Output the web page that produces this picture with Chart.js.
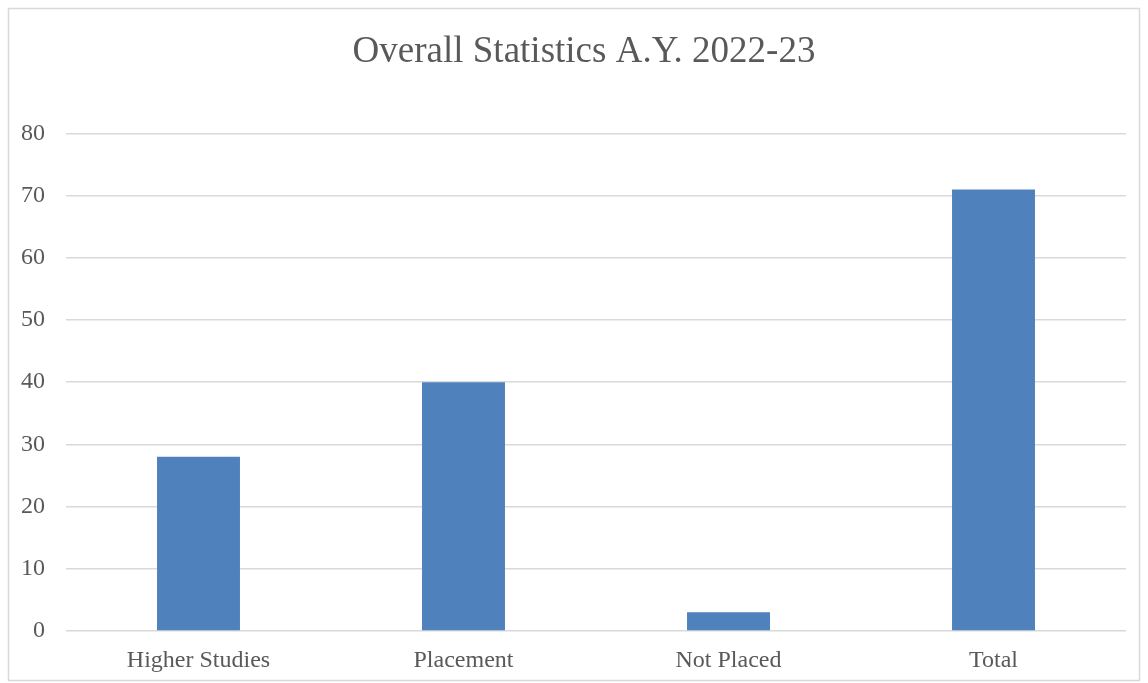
<!DOCTYPE html>
<html>
<head>
<meta charset="utf-8">
<script src="https://cdn.jsdelivr.net/npm/chart.js@4"></script>
<style>
  html, body { margin: 0; padding: 0; background: #fff; }
  #wrap { width: 1148px; height: 683px; }
</style>
</head>
<body>
<div id="wrap"><canvas id="chart" width="1148" height="683"></canvas></div>
<script>
var categories = ['Higher Studies', 'Placement', 'Not Placed', 'Total'];
var counts = [28, 40, 3, 71];
var chartTitle = 'Overall Statistics A.Y. 2022-23';

var frame = {
    id: 'frame',
    beforeDraw: function (chart) {
        var ctx = chart.ctx;
        ctx.save();
        ctx.fillStyle = '#fff';
        ctx.fillRect(0, 0, chart.width, chart.height);
        ctx.strokeStyle = '#d9d9d9';
        ctx.lineWidth = 1.5;
        ctx.strokeRect(8.5, 8.5, 1131, 672);
        ctx.restore();
    }
};

var ctx = document.getElementById('chart').getContext('2d');
var chart = new Chart(ctx, {
    type: 'bar',
    data: {
        labels: categories,
        datasets: [{ data: counts, backgroundColor: '#4f81bd', barPercentage: 0.313, categoryPercentage: 1 }]
    },
    options: {
        responsive: false, animation: false, devicePixelRatio: 1,
        layout: { padding: { left: 20, right: 0, top: 0, bottom: 0 } },
        plugins: {
            legend: { display: false },
            tooltip: { enabled: false },
            title: {
                display: true, text: chartTitle, color: '#595959',
                font: { family: '"Liberation Serif", "Times New Roman", serif', size: 37, weight: 'normal' },
                padding: { top: 30, bottom: 59 }
            }
        },
        scales: {
            x: {
                grid: { display: false, drawTicks: false },
                border: { display: false },
                ticks: { color: '#595959', padding: 15, font: { family: '"Liberation Serif", serif', size: 24 } },
                afterFit: function (s) { s.height = 52; }
            },
            y: {
                min: 0, max: 80,
                grid: { color: '#d9d9d9', lineWidth: 1.5, drawTicks: false },
                border: { display: false },
                ticks: { stepSize: 10, color: '#595959', padding: 21, font: { family: '"Liberation Serif", serif', size: 24 } },
                afterFit: function (s) { s.width = 46; }
            },
            yRight: {
                position: 'right', min: 0, max: 80,
                grid: { display: false, drawTicks: false },
                border: { display: false },
                ticks: { display: false },
                afterFit: function (s) { s.width = 22; }
            }
        }
    },
    plugins: [frame]
});
</script>
</body>
</html>
